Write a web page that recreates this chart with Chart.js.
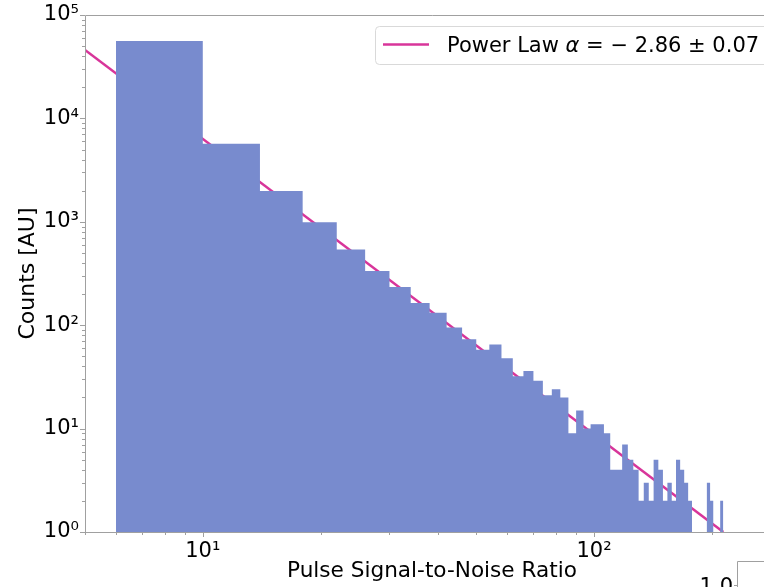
<!DOCTYPE html>
<html>
<head>
<meta charset="utf-8">
<script src="https://cdn.jsdelivr.net/npm/chart.js@4.4.1/dist/chart.umd.min.js"></script>
<style>
  html, body { margin: 0; padding: 0; background: #fff; overflow: hidden; }
  #wrap { width: 764px; height: 587px; overflow: hidden; }
</style>
</head>
<body>
<div id="wrap"><canvas id="snrChart" width="780" height="587"></canvas></div>
<script>
// histogram bins (edges) and counts per bin
const binEdges = [6, 10, 14, 18, 22, 26, 30, 34, 38, 42, 46, 50, 54, 58, 62, 66, 70, 74, 78, 82,
  86, 90, 94, 98, 102, 106, 110, 114, 118, 122, 126, 130, 134, 138, 142, 146, 150, 154, 158, 162,
  166, 170, 174, 178, 182, 186, 190, 194, 198, 202, 206, 210, 214];
const counts = [56000, 5700, 1990, 990, 540, 334, 234, 164, 132, 95,
  73, 58, 65, 48, 32, 36, 29, 21, 24, 20,
  9, 15, 10, 11, 11, 9, 4, 4, 7, 5,
  4, 2, 3, 2, 5, 4, 2, 3, 2, 5,
  4, 3, 2, 0, 0, 0, 0, 3, 2, 0,
  0, 2];

// power law fit end points
const fitX = [5, 214];
const fitY = [45900, 1];
const fitLabel = ['Power Law ', 'α', ' = − 2.86 ± 0.07'];

const xTicks = [5, 6, 7, 8, 9, 10, 20, 30, 40, 50, 60, 70, 80, 90, 100, 200];
const yTicks = [1, 2, 3, 4, 5, 6, 7, 8, 9, 10, 20, 30, 40, 50, 60, 70, 80, 90,
  100, 200, 300, 400, 500, 600, 700, 800, 900, 1000, 2000, 3000, 4000, 5000, 6000, 7000, 8000, 9000,
  10000, 20000, 30000, 40000, 50000, 60000, 70000, 80000, 90000, 100000];

const barColor = '#788bce';
const lineColor = '#d8359a';
const axisColor = '#a0a0a0';
const FONT = 'DejaVu Sans';

const supDigits = { '0': '⁰', '1': '¹', '2': '²', '3': '³', '4': '⁴', '5': '⁵' };
function isDecade(v) {
  const e = Math.log10(v);
  return Math.abs(e - Math.round(e)) < 1e-9;
}
function decadeLabel(v) {
  if (!isDecade(v)) return '';
  return '10' + String(Math.round(Math.log10(v))).split('').map(d => supDigits[d]).join('');
}

// step outline of the histogram
const histPoints = [];
counts.forEach((c, i) => {
  histPoints.push({ x: binEdges[i], y: c });
  histPoints.push({ x: binEdges[i + 1], y: c });
});

const decorations = {
  id: 'decorations',
  afterDatasetsDraw(chart) {
    const { ctx, chartArea: a, scales: { x, y } } = chart;
    ctx.save();
    ctx.strokeStyle = axisColor;
    ctx.lineWidth = 1;
    ctx.beginPath();
    ctx.moveTo(Math.round(a.left) + 0.5, Math.round(a.bottom) + 0.5);
    ctx.lineTo(Math.round(a.left) + 0.5, Math.round(a.top) + 0.5);
    ctx.lineTo(a.right, Math.round(a.top) + 0.5);
    ctx.moveTo(a.left, Math.round(a.bottom) + 0.5);
    ctx.lineTo(a.right, Math.round(a.bottom) + 0.5);
    x.ticks.forEach(t => {
      const p = Math.round(x.getPixelForValue(t.value)) + 0.5;
      const len = isDecade(t.value) ? 5 : 3;
      ctx.moveTo(p, a.bottom);
      ctx.lineTo(p, a.bottom + len);
    });
    y.ticks.forEach(t => {
      const p = Math.round(y.getPixelForValue(t.value)) + 0.5;
      const len = isDecade(t.value) ? 5 : 3;
      ctx.moveTo(a.left, p);
      ctx.lineTo(a.left - len, p);
    });
    ctx.stroke();
    ctx.restore();
  },
  afterDraw(chart) {
    const { ctx } = chart;
    ctx.save();
    // legend box
    ctx.fillStyle = 'rgba(255,255,255,0.8)';
    ctx.strokeStyle = '#d9d9d9';
    ctx.lineWidth = 1;
    ctx.beginPath();
    ctx.roundRect(375.5, 26.5, 400, 38, 4);
    ctx.fill();
    ctx.stroke();
    ctx.strokeStyle = lineColor;
    ctx.lineWidth = 2.5;
    ctx.beginPath();
    ctx.moveTo(383, 44.5);
    ctx.lineTo(429, 44.5);
    ctx.stroke();
    ctx.fillStyle = '#000';
    ctx.textBaseline = 'alphabetic';
    let tx = 447;
    fitLabel.forEach((part, i) => {
      ctx.font = (i === 1 ? 'italic ' : '') + '21px "' + FONT + '"';
      ctx.fillText(part, tx, 52);
      tx += ctx.measureText(part).width;
    });
    // corner of the neighbouring panel
    ctx.strokeStyle = axisColor;
    ctx.lineWidth = 1;
    ctx.beginPath();
    ctx.moveTo(737.5, 587);
    ctx.lineTo(737.5, 561.5);
    ctx.lineTo(780, 561.5);
    ctx.moveTo(734, 585.5);
    ctx.lineTo(737.5, 585.5);
    ctx.stroke();
    ctx.font = '21px "' + FONT + '"';
    ctx.textAlign = 'right';
    ctx.fillText('1.0', 733, 593);
    ctx.restore();
  }
};

new Chart(document.getElementById('snrChart'), {
  type: 'line',
  data: {
    datasets: [
      {
        label: 'Counts',
        data: histPoints,
        fill: 'start',
        backgroundColor: barColor,
        borderColor: 'transparent',
        borderWidth: 0,
        pointRadius: 0,
        tension: 0
      },
      {
        label: fitLabel.join(''),
        data: fitX.map((v, i) => ({ x: v, y: fitY[i] })),
        borderColor: lineColor,
        borderWidth: 2.5,
        pointRadius: 0,
        fill: false
      }
    ]
  },
  options: {
    responsive: false,
    devicePixelRatio: 1,
    animation: false,
    layout: { padding: { top: 15, right: 1, left: 0, bottom: 0 } },
    plugins: {
      legend: { display: false },
      tooltip: { enabled: false }
    },
    scales: {
      x: {
        type: 'logarithmic',
        min: 5,
        max: 297,
        afterBuildTicks: s => { s.ticks = xTicks.map(v => ({ value: v })); },
        afterFit: s => { s.height = 55; },
        grid: { display: true, drawOnChartArea: false, drawTicks: true, tickLength: 4, color: 'transparent', tickColor: 'transparent' },
        border: { display: false },
        ticks: {
          autoSkip: false, maxRotation: 0, padding: 3, color: '#000',
          font: { family: FONT, size: 21 },
          callback: v => decadeLabel(v)
        },
        title: {
          display: true, text: 'Pulse Signal-to-Noise Ratio', color: '#000',
          font: { family: FONT, size: 21.6 }, padding: { top: 0, bottom: 3 }
        }
      },
      y: {
        type: 'logarithmic',
        min: 1,
        max: 100000,
        afterBuildTicks: s => { s.ticks = yTicks.map(v => ({ value: v })); },
        afterFit: s => { s.width = 85; },
        grid: { display: true, drawOnChartArea: false, drawTicks: true, tickLength: 4, color: 'transparent', tickColor: 'transparent' },
        border: { display: false },
        ticks: {
          autoSkip: false, padding: 2, color: '#000',
          font: { family: FONT, size: 21 },
          callback: v => decadeLabel(v)
        },
        title: {
          display: true, text: 'Counts [AU]', color: '#000',
          font: { family: FONT, size: 22 }, padding: { top: 15, bottom: 0 }
        }
      }
    }
  },
  plugins: [decorations]
});
</script>
</body>
</html>
